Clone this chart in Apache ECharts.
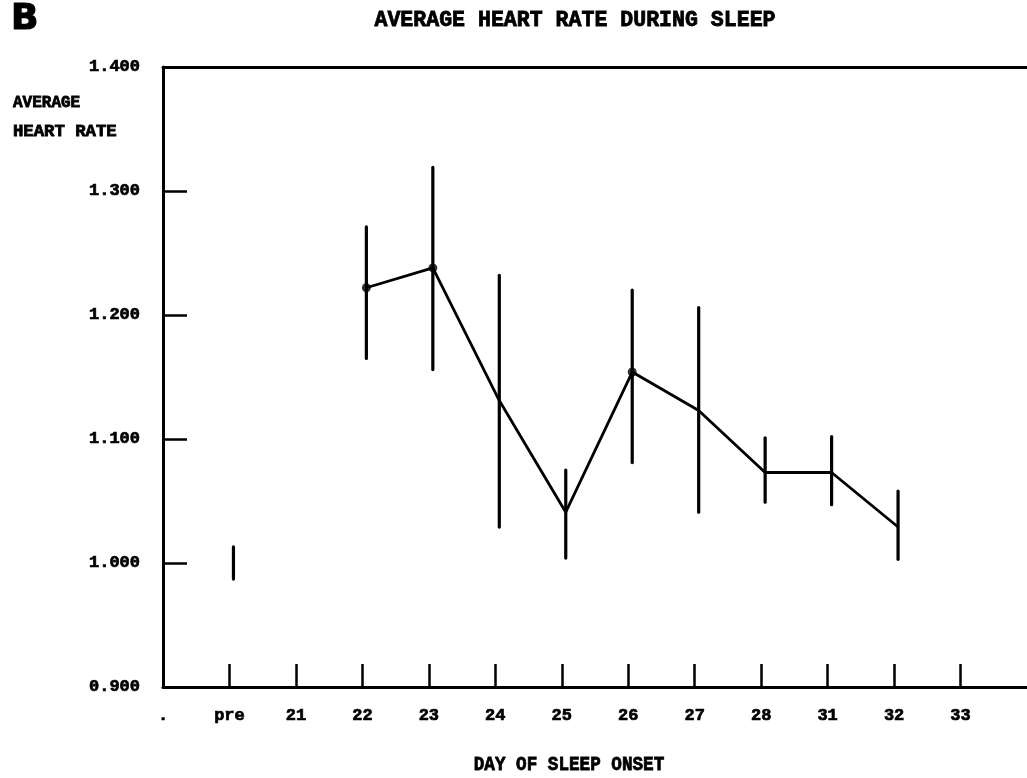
<!DOCTYPE html>
<html>
<head>
<meta charset="utf-8">
<script src="https://cdn.jsdelivr.net/npm/echarts@6/dist/echarts.min.js"></script>
<style>
  html, body { margin: 0; padding: 0; background: #fff; }
  #chart { width: 1027px; height: 778px; }
</style>
</head>
<body>
<div id="chart"></div>
<script>
// Day-of-sleep-onset categories along the x axis ('.' marks the origin slot)
const dayLabels = ['.', 'pre', '21', '22', '23', '24', '25', '26', '27', '28', '31', '32', '33'];

// Mean heart rate per day (null = no mean plotted on the line)
const meanRate = [null, null, null, 1.222, 1.238, 1.131, 1.041, 1.154, 1.123, 1.073, 1.073, 1.029, null];

// Error bar extents per day
const barHigh = [null, 1.013, null, 1.271, 1.319, 1.232, 1.075, 1.220, 1.206, 1.101, 1.102, 1.058, null];
const barLow  = [null, 0.987, null, 1.165, 1.156, 1.029, 1.004, 1.081, 1.041, 1.049, 1.047, 1.003, null];

// Days flagged with an asterisk marker
const flaggedDays = ['22', '23', '26'];

// Y axis range and step
const yMin = 0.9, yMax = 1.4, yStep = 0.1;

// The plotter pen sits slightly right of the tick marks
const PEN_SHIFT = 0.06;

const MONO = '"Liberation Mono", "DejaVu Sans Mono", monospace';
const INK = '#000';

const lineData = [];
const errData = [];
const flagData = [];
dayLabels.forEach((lab, i) => {
  if (meanRate[i] != null) lineData.push([i + PEN_SHIFT, meanRate[i]]);
  if (barHigh[i] != null) errData.push([i + PEN_SHIFT, barLow[i], barHigh[i]]);
  if (flaggedDays.includes(lab)) flagData.push([i + PEN_SHIFT, meanRate[i]]);
});

// heavy plotter-style lettering
const penText = (text, x, y, size, sx, align) => ({
  type: 'text', x: x, y: y, scaleX: sx,
  style: {
    text: text, font: 'bold ' + size + 'px ' + MONO, fill: INK,
    stroke: INK, lineWidth: 0.8,
    textAlign: align, textVerticalAlign: 'middle'
  }
});

const labelStyle = {
  color: INK, fontFamily: MONO, fontWeight: 'bold', fontSize: 17,
  textBorderColor: INK, textBorderWidth: 0.7
};

const chart = echarts.init(document.getElementById('chart'), null, { renderer: 'canvas' });

chart.setOption({
  animation: false,
  backgroundColor: '#ffffff',
  grid: { left: 163, top: 67, width: 870, height: 620 },
  xAxis: [
    {
      type: 'value',
      min: 0, max: dayLabels.length, interval: 1,
      axisLine: { show: true, lineStyle: { color: INK, width: 3 } },
      axisTick: { show: true, inside: true, length: 23, lineStyle: { color: INK, width: 2.5 } },
      splitLine: { show: false },
      axisLabel: Object.assign({
        margin: 20,
        showMinLabel: true, showMaxLabel: false,
        formatter: v => (dayLabels[Math.round(v)] !== undefined ? dayLabels[Math.round(v)] : '')
      }, labelStyle)
    },
    {
      // top frame line
      type: 'value', position: 'top',
      min: 0, max: dayLabels.length,
      axisLine: { show: true, onZero: false, lineStyle: { color: INK, width: 3 } },
      axisTick: { show: false }, axisLabel: { show: false }, splitLine: { show: false }
    }
  ],
  yAxis: {
    type: 'value',
    min: yMin, max: yMax, interval: yStep,
    axisLine: { show: true, lineStyle: { color: INK, width: 3 } },
    axisTick: { show: true, inside: true, length: 24, lineStyle: { color: INK, width: 2.5 } },
    splitLine: { show: false },
    axisLabel: Object.assign({
      margin: 23,
      formatter: v => v.toFixed(3)
    }, labelStyle)
  },
  graphic: [
    { type: 'text', x: 11, y: 2,
      style: { text: 'B', font: 'bold 36px "DejaVu Sans", sans-serif', fill: INK,
               stroke: INK, lineWidth: 1.2, textAlign: 'left', textVerticalAlign: 'top' } },
    penText('AVERAGE HEART RATE DURING SLEEP', 575, 20, 22, 0.98, 'center'),
    penText('AVERAGE', 13, 103, 16, 1.0, 'left'),
    penText('HEART RATE', 13, 132, 16, 1.08, 'left'),
    penText('DAY OF SLEEP ONSET', 569, 765, 21, 0.84, 'center')
  ],
  series: [
    {
      type: 'custom',
      name: 'range',
      data: errData,
      encode: { x: 0, y: [1, 2] },
      renderItem: (params, api) => {
        const lo = api.coord([api.value(0), api.value(1)]);
        const hi = api.coord([api.value(0), api.value(2)]);
        return {
          type: 'line',
          shape: { x1: lo[0], y1: lo[1], x2: hi[0], y2: hi[1] },
          style: { stroke: INK, lineWidth: 3.2, lineCap: 'round' }
        };
      },
      z: 3
    },
    {
      type: 'line',
      name: 'mean',
      data: lineData,
      showSymbol: false,
      symbol: 'none',
      lineStyle: { color: INK, width: 2.8 },
      z: 4
    },
    {
      type: 'scatter',
      name: 'flagged',
      data: flagData,
      symbol: 'circle',
      symbolSize: 9,
      itemStyle: { color: INK },
      z: 5
    }
  ]
});
</script>
</body>
</html>
